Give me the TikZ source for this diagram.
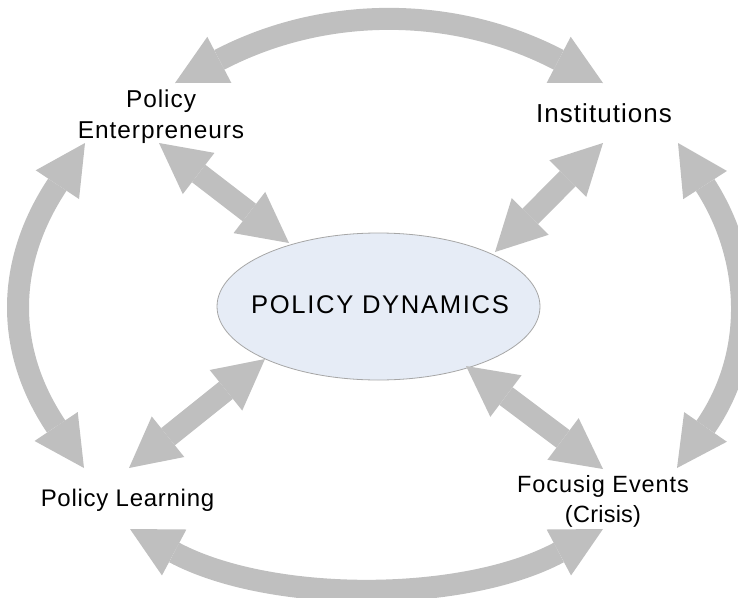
\documentclass[tikz,border=0pt]{standalone}
\usepackage{fontspec}
\setmainfont{Liberation Sans}
\newfontfamily\fA[LetterSpace=4]{Liberation Sans}
\newfontfamily\fPL[LetterSpace=3]{Liberation Sans}
\newfontfamily\fPD[LetterSpace=6.5]{Liberation Sans}
\newfontfamily\fC[LetterSpace=1]{Liberation Sans}
\usetikzlibrary{arrows.meta,shapes.geometric}
\definecolor{arrowgray}{HTML}{BFBFBF}
\definecolor{ellfill}{HTML}{E6ECF6}
\definecolor{ellline}{HTML}{A6A6A6}
\tikzset{
  blockarrow/.style={draw=arrowgray, line width=22pt,
    >={Triangle[width=52pt,length=50pt,line width=0pt]}, <->},
  lbl/.style={inner sep=0pt, text=black},
  ellnode/.style={ellipse, draw=ellline, line width=0.8pt, fill=ellfill,
    minimum width=323pt, minimum height=147pt, inner sep=0pt},
}
\begin{document}
\begin{tikzpicture}[x=1pt,y=-1pt]
\path[use as bounding box] (0,0) rectangle (738,597);
\clip (0,0) rectangle (738,597);
% central ellipse
\node[ellnode] (pd) at (378.5,306.5) {};
\node[lbl, anchor=base, font={\fPD\fontsize{25.6}{30}\selectfont}] (pdt) at (380,313.3) {POLICY DYNAMICS};
% labels
\node[lbl, anchor=north, align=center, font={\fA\fontsize{24.4}{31}\selectfont}] (pe) at (161,89.8) {Policy\\Enterpreneurs};
\node[lbl, anchor=base, font={\fA\fontsize{26}{30}\selectfont}] (inst) at (604,122) {Institutions};
\node[lbl, anchor=base, font={\fPL\fontsize{24}{30}\selectfont}] (pl) at (127.5,506.7) {Policy Learning};
\node[lbl, anchor=north, align=center, font={\fontsize{23.5}{29.4}\selectfont}] (fe) at (603,475.5) {{\fA Focusig Events}\\{\fC (Crisis)}};
% arrow end points
\coordinate (peA) at (175,83);
\coordinate (inA) at (603,83);
\coordinate (plB) at (130,529);
\coordinate (feB) at (603,529);
\coordinate (peL) at (85,143);
\coordinate (plL) at (84,468);
\coordinate (inR) at (678,143);
\coordinate (feR) at (677,468);
\coordinate (peD) at (159,143);
\coordinate (pdA) at (289,243);
\coordinate (inD) at (603,143);
\coordinate (pdB) at (495,252);
\coordinate (plD) at (129,468);
\coordinate (pdC) at (265,359);
\coordinate (feD) at (603,469);
\coordinate (pdD) at (466,366);
% curved outer arrows
\draw[blockarrow] (peA) .. controls (324.1,5.2) and (453.9,5.2) .. (inA);
\draw[blockarrow] (plB) .. controls (270.4,603.6) and (462.6,603.6) .. (feB);
\draw[blockarrow] (peL) .. controls (5.9,262.3) and (4.3,349.2) .. (plL);
\draw[blockarrow] (inR) .. controls (752.8,259.1) and (755.7,354.6) .. (feR);
% diagonal arrows
\draw[blockarrow] (peD) -- (pdA);
\draw[blockarrow] (inD) -- (pdB);
\draw[blockarrow] (plD) -- (pdC);
\draw[blockarrow] (feD) -- (pdD);
\end{tikzpicture}
\end{document}
